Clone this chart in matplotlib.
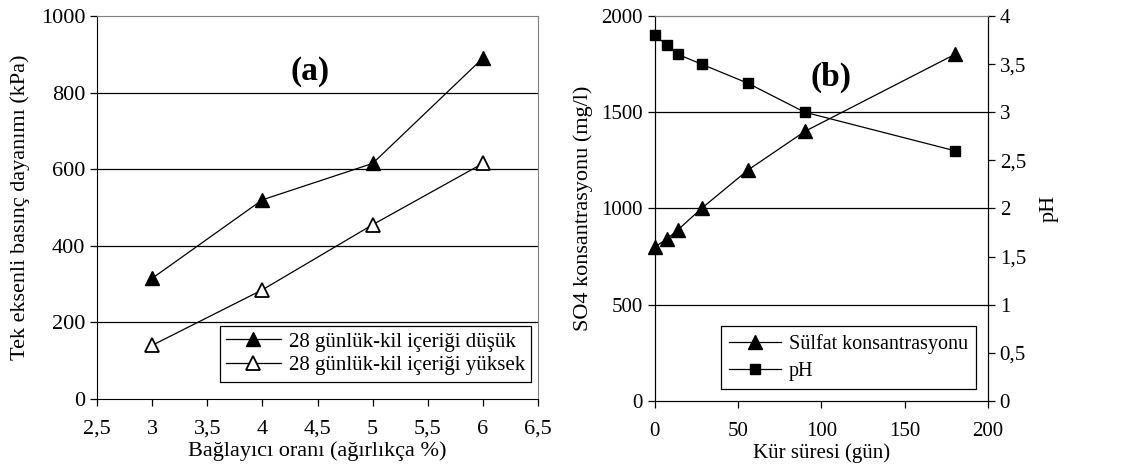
import matplotlib
matplotlib.use("Agg")
import matplotlib.pyplot as plt
from matplotlib.ticker import FuncFormatter

plt.rcParams['font.family'] = ['Liberation Serif', 'DejaVu Serif']
plt.rcParams['font.size'] = 16

# data (a)
binder = [3, 4, 5, 6]
low_clay = [315, 520, 615, 890]
high_clay = [140, 285, 455, 615]

# data (b)
days = [0, 7, 14, 28, 56, 90, 180]
sulfate = [800, 840, 890, 1000, 1200, 1400, 1800]
ph = [3.8, 3.7, 3.6, 3.5, 3.3, 3.0, 2.6]

comma = FuncFormatter(lambda v, p: ('%g' % v).replace('.', ','))

fig = plt.figure(figsize=(11.35, 4.71), dpi=100)

# ---- panel (a)
ax1 = fig.add_axes([0.0855, 0.153, 0.3885, 0.813])
ax1.plot(binder, low_clay, color='black', lw=0.9, marker='^', ms=10,
         mfc='black', mec='black', label='28 günlük-kil içeriği düşük', clip_on=False)
ax1.plot(binder, high_clay, color='black', lw=0.9, marker='^', ms=10,
         mfc='white', mec='black', mew=1.3, label='28 günlük-kil içeriği yüksek', clip_on=False)
ax1.set_xlim(2.5, 6.5)
ax1.set_ylim(0, 1000)
ax1.set_xticks([2.5, 3, 3.5, 4, 4.5, 5, 5.5, 6, 6.5])
ax1.set_yticks([0, 200, 400, 600, 800, 1000])
ax1.xaxis.set_major_formatter(comma)
for y in [200, 400, 600, 800]:
    ax1.axhline(y, color='black', lw=0.9, zorder=0)
ax1.spines['top'].set_color('#808080')
ax1.spines['right'].set_color('#808080')
ax1.set_xlabel('Bağlayıcı oranı (ağırlıkça %)', labelpad=2)
ax1.set_ylabel('Tek eksenli basınç dayanımı (kPa)', labelpad=8)
ax1.tick_params(direction='out', length=5, width=0.9)
ax1.tick_params(axis='x', pad=10)
ax1.text(0.483, 0.855, '(a)', transform=ax1.transAxes, fontsize=24,
         fontweight='bold', ha='center', va='center')
leg1 = ax1.legend(loc='lower right', bbox_to_anchor=(0.985, 0.045), fancybox=False,
                  framealpha=1, edgecolor='black', handlelength=2.6,
                  borderpad=0.3, labelspacing=0.2, handletextpad=0.4,
                  borderaxespad=0, fontsize=15)
leg1.get_frame().set_linewidth(0.9)

# ---- panel (b)
ax2 = fig.add_axes([0.577, 0.149, 0.2934, 0.817])
ax3 = ax2.twinx()
l1, = ax2.plot(days, sulfate, color='black', lw=0.9, marker='^', ms=10,
               mfc='black', mec='black', label='Sülfat konsantrasyonu', clip_on=False)
l2, = ax3.plot(days, ph, color='black', lw=0.9, marker='s', ms=7.5,
               mfc='black', mec='black', label='pH', clip_on=False)
ax2.set_xlim(0, 200)
ax2.set_ylim(0, 2000)
ax3.set_ylim(0, 4)
ax2.set_xticks([0, 50, 100, 150, 200])
ax2.set_yticks([0, 500, 1000, 1500, 2000])
ax3.set_yticks([0, 0.5, 1, 1.5, 2, 2.5, 3, 3.5, 4])
ax3.yaxis.set_major_formatter(comma)
for y in [500, 1000, 1500]:
    ax2.axhline(y, color='black', lw=0.9, zorder=0)
ax2.spines['top'].set_color('#808080')
ax3.spines['top'].set_color('#808080')
ax2.set_xlabel('Kür süresi (gün)', labelpad=2, fontsize=15)
ax2.set_ylabel('SO4 konsantrasyonu (mg/l)', labelpad=6)
ax3.set_ylabel('pH', labelpad=10)
ax2.tick_params(direction='out', length=5, width=0.9, labelsize=15)
ax2.tick_params(axis='x', pad=10)
ax3.tick_params(direction='out', length=5, width=0.9, labelsize=15)
ax2.text(0.53, 0.84, '(b)', transform=ax2.transAxes, fontsize=24,
         fontweight='bold', ha='center', va='center')
leg2 = ax3.legend([l1, l2], ['Sülfat konsantrasyonu', 'pH'], loc='lower right',
                  bbox_to_anchor=(0.965, 0.03), fancybox=False, framealpha=1,
                  edgecolor='black', handlelength=2.6, borderpad=0.4,
                  labelspacing=0.4, handletextpad=0.4, borderaxespad=0,
                  fontsize=14.5)
leg2.get_frame().set_linewidth(0.9)

fig.savefig('out.png', dpi=100)
